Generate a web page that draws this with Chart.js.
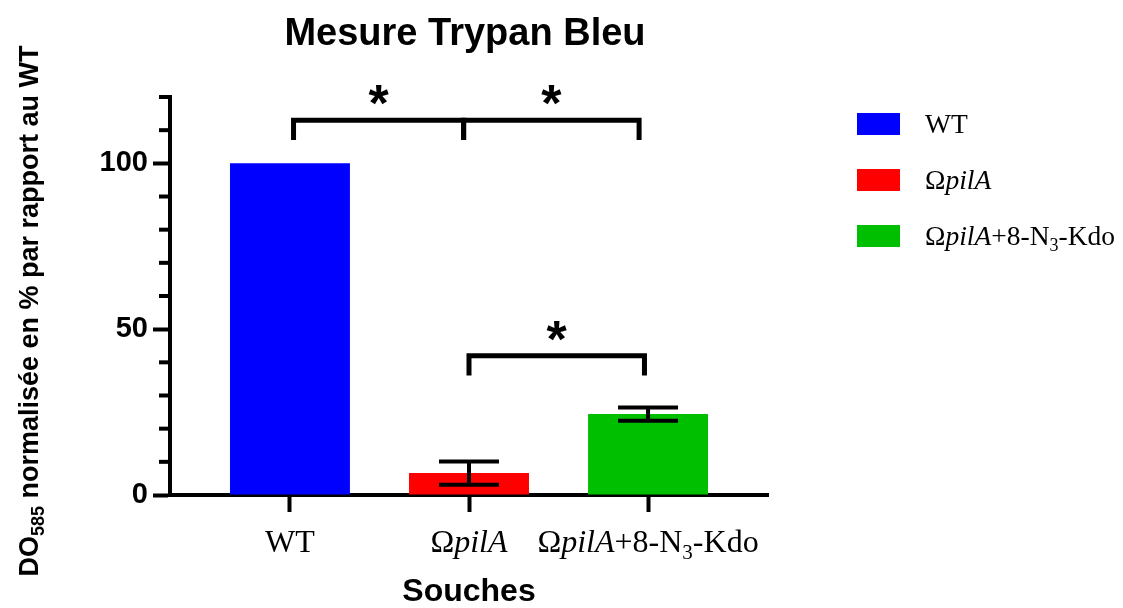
<!DOCTYPE html>
<html>
<head>
<meta charset="utf-8">
<title>Mesure Trypan Bleu</title>
<script src="https://cdn.jsdelivr.net/npm/chart.js@4.4.1/dist/chart.umd.min.js"></script>
<style>
    html, body { margin: 0; padding: 0; background: #fff; }
    #chart { display: block; }
</style>
</head>
<body>
<canvas id="chart" width="1123" height="608"></canvas>
<script>
// strain labels, <i> = italic, <sub> = subscript
var categories = ['WT', '\u03A9<i>pilA</i>', '\u03A9<i>pilA</i>+8-N<sub>3</sub>-Kdo'];
var means = [100, 6.6, 24.4];
var errors = [0, 3.5, 2.0];
var barColors = ['#0000ff', '#ff0000', '#00bf00'];
var yLabelTicks = [0, 50, 100];

// significance brackets (x in category units, y in % units)
var bracketFrom = [0.02, 0.97, 1.0];
var bracketTo = [0.97, 1.95, 1.98];
var bracketLevel = [113, 113, 42];
var bracketDrop = 6;
var bracketMarks = ['*', '*', '*'];

var titleText = 'Mesure Trypan Bleu';
var yTitleText = 'DO<sub>585</sub> normalis\u00e9e en % par rapport au WT';
var xTitleText = 'Souches';

(function () {
    'use strict';

    var SANS = '"Liberation Sans", Arial, Helvetica, sans-serif';
    var SERIF = '"Liberation Serif", "Times New Roman", serif';

    function parseRich(s) {
        var parts = [];
        var re = /<(i|sub)>(.*?)<\/\1>|([^<]+)/g;
        var m;
        while ((m = re.exec(s)) !== null) {
            if (m[3]) {
                parts.push({ t: m[3], style: '' });
            } else {
                parts.push({ t: m[2], style: m[1] });
            }
        }
        return parts;
    }

    function partFont(p, size, weight, family) {
        var sz = p.style === 'sub' ? Math.round(size * 0.65) : size;
        var it = p.style === 'i' ? 'italic ' : '';
        return it + weight + ' ' + sz + 'px ' + family;
    }

    // draws mixed-style text, x is the anchor for the given align
    function drawRich(ctx, s, x, y, size, weight, family, align) {
        var parts = parseRich(s);
        var total = 0;
        var i;
        ctx.textBaseline = 'alphabetic';
        ctx.textAlign = 'left';
        for (i = 0; i < parts.length; i++) {
            ctx.font = partFont(parts[i], size, weight, family);
            parts[i].w = ctx.measureText(parts[i].t).width;
            total += parts[i].w;
        }
        var cx = x;
        if (align === 'center') {
            cx = x - total / 2;
        } else if (align === 'right') {
            cx = x - total;
        }
        for (i = 0; i < parts.length; i++) {
            ctx.font = partFont(parts[i], size, weight, family);
            var dy = parts[i].style === 'sub' ? size * 0.22 : 0;
            ctx.fillText(parts[i].t, cx, y + dy);
            cx += parts[i].w;
        }
    }

    function line(ctx, x1, y1, x2, y2) {
        ctx.beginPath();
        ctx.moveTo(x1, y1);
        ctx.lineTo(x2, y2);
        ctx.stroke();
    }

    var decorations = {
        id: 'decorations',
        afterDraw: function (chart) {
            var ctx = chart.ctx;
            var xs = chart.scales.x;
            var ys = chart.scales.y;
            var area = chart.chartArea;
            var i;

            ctx.save();
            ctx.fillStyle = '#000';
            ctx.strokeStyle = '#000';
            ctx.lineCap = 'butt';

            // minor y ticks
            ctx.lineWidth = 4;
            for (i = 0; i < ys.ticks.length; i++) {
                var v = ys.ticks[i].value;
                if (yLabelTicks.indexOf(v) < 0) {
                    var py = ys.getPixelForValue(v);
                    line(ctx, ys.right - 11, py, ys.right, py);
                }
            }

            // error bars
            var halfCap = 30;
            for (i = 0; i < means.length; i++) {
                if (!errors[i]) {
                    continue;
                }
                var ex = xs.getPixelForValue(i);
                var top = ys.getPixelForValue(means[i] + errors[i]);
                var bot = ys.getPixelForValue(means[i] - errors[i]);
                line(ctx, ex, top, ex, bot);
                line(ctx, ex - halfCap, top, ex + halfCap, top);
                line(ctx, ex - halfCap, bot, ex + halfCap, bot);
            }

            // significance brackets
            ctx.lineWidth = 5;
            for (i = 0; i < bracketLevel.length; i++) {
                var bx1 = xs.getPixelForValue(bracketFrom[i]);
                var bx2 = xs.getPixelForValue(bracketTo[i]);
                var by = ys.getPixelForValue(bracketLevel[i]);
                var bd = ys.getPixelForValue(bracketLevel[i] - bracketDrop);
                ctx.beginPath();
                ctx.moveTo(bx1, bd);
                ctx.lineTo(bx1, by);
                ctx.lineTo(bx2, by);
                ctx.lineTo(bx2, bd);
                ctx.stroke();

                ctx.font = 'bold 52px ' + SANS;
                ctx.textAlign = 'center';
                ctx.textBaseline = 'alphabetic';
                var mm = ctx.measureText(bracketMarks[i]);
                var sy = ys.getPixelForValue(bracketLevel[i] + 7.5);
                var off = (mm.actualBoundingBoxAscent - mm.actualBoundingBoxDescent) / 2;
                ctx.fillText(bracketMarks[i], (bx1 + bx2) / 2, sy + off);
            }

            // x category labels
            for (i = 0; i < categories.length; i++) {
                drawRich(ctx, categories[i], xs.getPixelForValue(i), 552, 32, 'normal', SERIF, 'center');
            }

            // title and axis titles
            ctx.font = 'bold 38px ' + SANS;
            ctx.textAlign = 'center';
            ctx.fillText(titleText, 465, 45);

            ctx.font = 'bold 32px ' + SANS;
            ctx.textAlign = 'center';
            ctx.fillText(xTitleText, (area.left + area.right) / 2, 601);

            ctx.save();
            ctx.translate(38, 311);
            ctx.rotate(-Math.PI / 2);
            drawRich(ctx, yTitleText, 0, 0, 27, 'bold', SANS, 'center');
            ctx.restore();

            // legend
            for (i = 0; i < categories.length; i++) {
                var cy = 124 + i * 56;
                ctx.fillStyle = barColors[i];
                ctx.fillRect(857, cy - 11, 43, 22);
                ctx.fillStyle = '#000';
                drawRich(ctx, categories[i], 925, cy + 9, 27.5, 'normal', SERIF, 'left');
            }

            ctx.restore();
        }
    };

    var points = [];
    for (var k = 0; k < means.length; k++) {
        points.push({ x: k, y: means[k] });
    }

    new Chart(document.getElementById('chart'), {
        type: 'bar',
        data: {
            datasets: [{
                data: points,
                backgroundColor: barColors,
                borderWidth: 0,
                barPercentage: 0.67,
                categoryPercentage: 1
            }]
        },
        options: {
            responsive: false,
            devicePixelRatio: 1,
            animation: false,
            layout: { padding: { left: 0, top: 97, right: 355, bottom: 0 } },
            plugins: {
                legend: { display: false },
                tooltip: { enabled: false }
            },
            scales: {
                x: {
                    type: 'linear',
                    min: -0.67,
                    max: 2.67,
                    offset: false,
                    afterBuildTicks: function (scale) {
                        scale.ticks = categories.map(function (c, i) { return { value: i }; });
                    },
                    afterFit: function (scale) { scale.height = 113; },
                    ticks: { display: false },
                    grid: {
                        offset: false,
                        drawOnChartArea: false,
                        tickLength: 17,
                        tickWidth: 4,
                        tickColor: '#000'
                    },
                    border: { display: true, width: 4, color: '#000' }
                },
                y: {
                    min: 0,
                    max: 120,
                    afterFit: function (scale) { scale.width = 170; },
                    ticks: {
                        stepSize: 10,
                        autoSkip: false,
                        padding: 5,
                        color: '#000',
                        font: { family: SANS, size: 29, weight: 'bold' },
                        callback: function (v) {
                            return yLabelTicks.indexOf(v) >= 0 ? String(v) : '';
                        }
                    },
                    grid: {
                        drawOnChartArea: false,
                        tickLength: 17,
                        tickWidth: 4,
                        tickColor: function (c) {
                            return c.tick && yLabelTicks.indexOf(c.tick.value) >= 0 ? '#000' : 'rgba(0,0,0,0)';
                        }
                    },
                    border: { display: true, width: 4, color: '#000' }
                }
            }
        },
        plugins: [decorations]
    });
})();
</script>
</body>
</html>
